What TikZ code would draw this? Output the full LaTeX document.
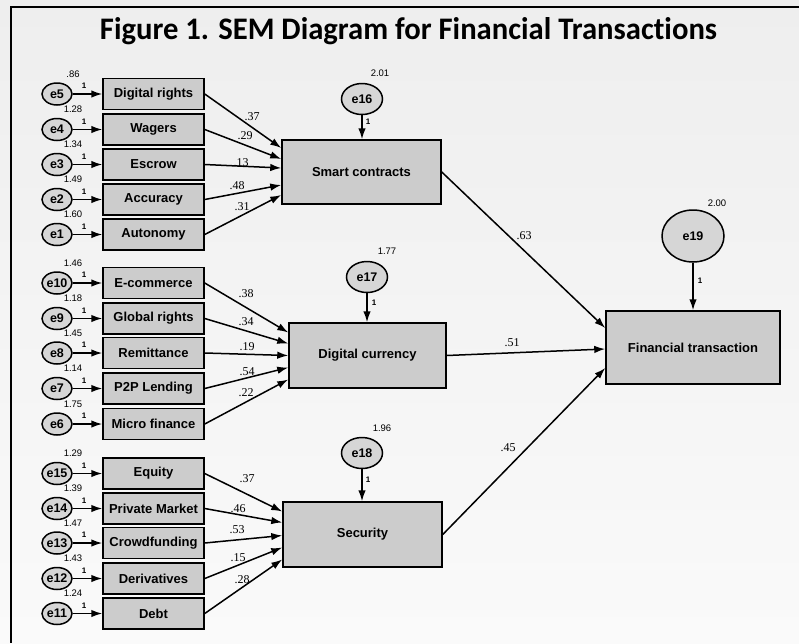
\documentclass[tikz,border=0pt]{standalone}
\usepackage{fontspec}
\usepackage{graphicx}
\setmainfont{Liberation Sans}
\newfontfamily\titlefont[Ligatures={NoCommon,NoRare,NoDiscretionary}]{Carlito}
\newfontfamily\coeffont{Liberation Serif}
\usetikzlibrary{arrows.meta,shapes.geometric}

\definecolor{pagetop}{RGB}{238,238,238}
\definecolor{pagebot}{RGB}{250,250,250}
\definecolor{boxfill}{RGB}{204,204,204}
\definecolor{errfill}{RGB}{214,214,214}

\tikzset{
  obsbox/.style={draw=black, line width=1.5pt, fill=boxfill, minimum width=101pt,
    minimum height=31pt, inner sep=0pt, font=\bfseries\fontsize{13}{13}\selectfont},
  latbox/.style={draw=black, line width=1.5pt, fill=boxfill, minimum width=159pt,
    minimum height=65pt, inner sep=0pt, font=\bfseries\fontsize{13}{13}\selectfont},
  errsmall/.style={ellipse, draw=black, line width=1.5pt, fill=errfill, minimum width=30pt,
    minimum height=22pt, inner sep=0pt, font=\bfseries\fontsize{12.5}{12.5}\selectfont},
  errmid/.style={ellipse, draw=black, line width=1.5pt, fill=errfill, minimum width=41pt,
    minimum height=31pt, inner sep=0pt, font=\bfseries\fontsize{12.5}{12.5}\selectfont},
  link/.style={line width=1.5pt, -{Latex[length=11pt,width=7.5pt]}},
  coef/.style={font=\coeffont\fontsize{12}{12}\selectfont, inner sep=0pt},
  varlbl/.style={font=\fontsize{9.5}{9.5}\selectfont, inner sep=0pt},
  onelbl/.style={font=\bfseries\fontsize{8}{8}\selectfont, inner sep=0pt},
}

\begin{document}
\begin{tikzpicture}[x=1pt,y=-1pt]
  % page background and frame
  \shade[top color=pagetop, bottom color=pagebot] (0,0) rectangle (799,643);
  \useasboundingbox (0,0) rectangle (799,643);
  \draw[line width=2pt] (10,7) -- (799,7);
  \draw[line width=2pt] (11,7) -- (11,643);

  % title
  \node[inner sep=0pt] (title) at (408.5,31)
    {\resizebox{617pt}{22pt}{\titlefont\bfseries Figure 1. SEM Diagram for Financial Transactions}};

  % latent constructs
  \node[latbox, minimum height=64pt] (sc) at (361.5,172) {Smart contracts};
  \node[latbox, minimum width=157pt] (dc) at (367.5,355.5) {Digital currency};
  \node[latbox] (se) at (362.5,534.5) {Security};
  \node[latbox, minimum width=174pt, minimum height=73pt] (ft) at (693,347.5) {Financial transaction};

  % disturbances of the latent constructs
  \node[errmid] (e16) at (362,99) {e16};
  \node[errmid] (e17) at (367,277) {e17};
  \node[errmid] (e18) at (362,453) {e18};
  \node[errmid, minimum width=62pt, minimum height=52pt] (e19) at (693,236) {e19};

  \draw[link] (e16.south) -- (e16.south |- sc.north);
  \draw[link] (e17.south) -- (e17.south |- dc.north);
  \draw[link] (e18.south) -- (e18.south |- se.north);
  \draw[link] (e19.south) -- (e19.south |- ft.north);

  \node[varlbl] (v16) at (380,73) {2.01};
  \node[varlbl] (v17) at (387,251) {1.77};
  \node[varlbl] (v18) at (382,428) {1.96};
  \node[varlbl] (v19) at (717,203) {2.00};
  \node[onelbl] (o16) at (368,122) {1};
  \node[onelbl] (o17) at (374,303) {1};
  \node[onelbl] (o18) at (368,480) {1};
  \node[onelbl] (o19) at (700,281) {1};

  % structural paths
  \draw[link] (sc.east) -- ([yshift=19.5pt]ft.west);
  \draw[link] (dc.east) -- ([yshift=-1.5pt]ft.west);
  \draw[link] (se.east) -- ([yshift=-20.5pt]ft.west);
  \node[coef] (p63) at (524,236) {.63};
  \node[coef] (p51) at (512,343) {.51};
  \node[coef] (p45) at (508,448) {.45};

  % observed indicators with their error terms
  \foreach \nm/\txt/\yy/\er/\vr/\cf/\cx/\cy/\sh/\lat in {
      di/Digital rights/94/e5/.86/.37/252/117/24/sc,
      wa/Wagers/129.5/e4/1.28/.29/245/136/13/sc,
      es/Escrow/164.5/e3/1.34/.13/241/163/4/sc,
      ac/Accuracy/199.5/e2/1.49/.48/237/186/-13/sc,
      au/Autonomy/234.5/e1/1.60/.31/242/207/-23/sc,
      ec/E-commerce/283/e10/1.46/.38/246/294/23/dc,
      gr/Global rights/318.5/e9/1.18/.34/246/322/12/dc,
      re/Remittance/353/e8/1.45/.19/247/347/0/dc,
      pp/P2P Lending/388.5/e7/1.14/.54/247/372/-12/dc,
      mf/Micro finance/424/e6/1.75/.22/246/393/-24/dc,
      eq/Equity/473.5/e15/1.29/.37/247/479/23/se,
      pm/Private Market/508.5/e14/1.39/.46/238/509/12/se,
      cf/Crowdfunding/543/e13/1.47/.53/237/530/-1/se,
      de/Derivatives/578.5/e12/1.43/.15/238/558/-13/se,
      db/Debt/613.5/e11/1.24/.28/242/580/-25/se}
  {
    \node[obsbox] (\nm) at (153.5,\yy) {\txt};
    \node[errsmall] (\er) at (57,\yy) {\er};
    \draw[link] (\er.east) -- (\nm.west);
    \node[onelbl] (one\er) at (84,\yy-8) {1};
    \node[varlbl] (var\er) at (73,\yy-20) {\vr};
    \draw[link] (\nm.east) -- ([yshift=\sh pt]\lat.west);
    \node[coef] (c\nm) at (\cx,\cy) {\cf};
  }
\end{tikzpicture}
\end{document}
